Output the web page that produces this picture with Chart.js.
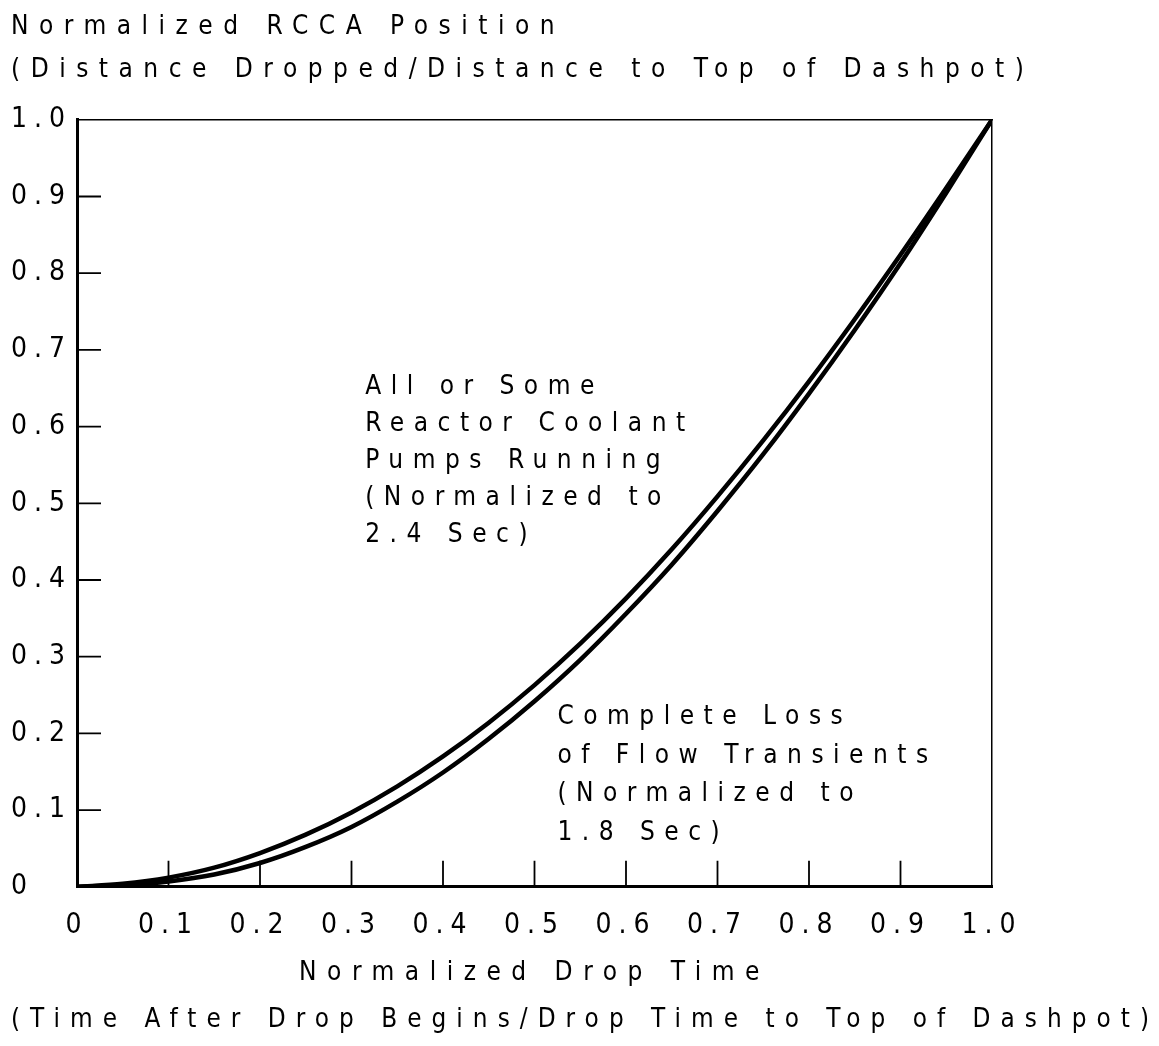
<!DOCTYPE html>
<html><head><meta charset="utf-8">
<script src="https://cdn.jsdelivr.net/npm/chart.js@4"></script>
<style>html,body{margin:0;padding:0;background:#fff}#wrap{width:1159px;height:1046px}</style>
</head><body><div id="wrap"><canvas id="c" width="1159" height="1046"></canvas></div>
<script>
const timeValues = [0,0.05,0.1,0.15,0.2,0.25,0.3,0.35,0.4,0.45,0.5,0.55,0.6,0.65,0.7,0.75,0.8,0.85,0.9,0.95,1.0];
const allPumpsPosition = [0,0.004,0.012,0.025,0.044,0.068,0.097,0.131,0.170,0.214,0.263,0.317,0.376,0.440,0.509,0.582,0.659,0.740,0.824,0.911,1.0];
const lossOfFlowPosition = [0,0.002,0.007,0.016,0.031,0.052,0.078,0.111,0.149,0.193,0.242,0.296,0.356,0.420,0.490,0.564,0.643,0.726,0.813,0.905,1.0];
const xTickLabels = ["0","0.1","0.2","0.3","0.4","0.5","0.6","0.7","0.8","0.9","1.0"];
const yTickLabels = ["0","0.1","0.2","0.3","0.4","0.5","0.6","0.7","0.8","0.9","1.0"];
const titleLines = ["Normalized RCCA Position","(Distance Dropped/Distance to Top of Dashpot)"];
const xTitle = "Normalized Drop Time";
const xSubtitle = "(Time After Drop Begins/Drop Time to Top of Dashpot)";
const noteAllPumps = ["All or Some","Reactor Coolant","Pumps Running","(Normalized to","2.4 Sec)"];
const noteLossOfFlow = ["Complete Loss","of Flow Transients","(Normalized to","1.8 Sec)"];

const FAM = "'Liberation Sans Narrow','DejaVu Sans Condensed','Liberation Sans',sans-serif";
const LS_TITLE = '10.5px';
const LS_NOTE = '9.5px';
const LS_TICK = '7px';

const spacingPlugin = {
  id: 'spacing',
  beforeLayout(chart){ chart.ctx.letterSpacing = LS_TICK; },
  beforeDraw(chart){ chart.ctx.letterSpacing = LS_TITLE; }
};

const ticksPlugin = {
  id: 'inwardTicks',
  afterDatasetsDraw(chart){
    const {ctx, chartArea: a, scales: {x, y}} = chart;
    ctx.save();
    ctx.strokeStyle = '#000';
    ctx.lineWidth = 1.8;
    ctx.beginPath();
    for (let i = 1; i < xTickLabels.length - 1; i++) {
      const px = x.getPixelForValue(i / 10);
      ctx.moveTo(px, a.bottom); ctx.lineTo(px, a.bottom - 26);
    }
    for (let i = 1; i < yTickLabels.length - 1; i++) {
      const py = y.getPixelForValue(i / 10);
      ctx.moveTo(a.left, py); ctx.lineTo(a.left + 24, py);
    }
    ctx.stroke();
    ctx.restore();
  }
};

const notesPlugin = {
  id: 'notes',
  afterDatasetsDraw(chart){
    const {ctx, scales: {x, y}} = chart;
    const blocks = [
      {lines: noteAllPumps, t: 0.315, v: 0.642, gap: 37},
      {lines: noteLossOfFlow, t: 0.525, v: 0.212, gap: 38.5}
    ];
    ctx.save();
    ctx.letterSpacing = LS_NOTE;
    ctx.fillStyle = '#000';
    ctx.font = '26px ' + FAM;
    ctx.textAlign = 'left';
    ctx.textBaseline = 'alphabetic';
    blocks.forEach(b => {
      const px = x.getPixelForValue(b.t);
      const py = y.getPixelForValue(b.v);
      b.lines.forEach((s, i) => ctx.fillText(s, px, py + i * b.gap));
    });
    ctx.restore();
    // tick labels (z = 1 layers) are drawn after this point
    ctx.letterSpacing = LS_TICK;
  }
};

const ds = (vals) => timeValues.map((t, i) => ({x: t, y: vals[i]}));

new Chart(document.getElementById('c'), {
  type: 'line',
  data: {
    datasets: [
      {label: 'All or Some Reactor Coolant Pumps Running', data: ds(allPumpsPosition), borderColor: '#000', borderWidth: 4.5, pointRadius: 0, cubicInterpolationMode: 'monotone', fill: false},
      {label: 'Complete Loss of Flow Transients', data: ds(lossOfFlowPosition), borderColor: '#000', borderWidth: 4.5, pointRadius: 0, cubicInterpolationMode: 'monotone', fill: false}
    ]
  },
  options: {
    responsive: false,
    animation: false,
    devicePixelRatio: 1,
    layout: {padding: {left: 11, right: 0, top: 0, bottom: 0}},
    plugins: {
      legend: {display: false},
      tooltip: {enabled: false},
      title: {display: true, text: titleLines, align: 'start', color: '#000', font: {size: 26, family: FAM, weight: 'normal', lineHeight: 1.65}, padding: {top: 6, bottom: 28}},
      subtitle: {display: true, position: 'bottom', text: xSubtitle, color: '#000', font: {size: 27, family: FAM, weight: 'normal', lineHeight: 1.6}, padding: {top: 0, bottom: 4}}
    },
    scales: {
      x: {
        type: 'linear', position: 'bottom', min: 0, max: 1,
        grid: {display: false},
        border: {display: true, width: 3, color: '#000'},
        ticks: {z: 1, stepSize: 0.1, autoSkip: false, maxRotation: 0, color: '#000', padding: 14, font: {size: 28, family: FAM},
          callback: v => xTickLabels[Math.round(v * 10)]},
        title: {display: true, text: xTitle, color: '#000', font: {size: 26, family: FAM}, padding: {top: 0, bottom: 10}},
        afterFit(s){ s.height = 112; }
      },
      y: {
        type: 'linear', position: 'left', min: 0, max: 1,
        grid: {display: false},
        border: {display: true, width: 3, color: '#000'},
        ticks: {z: 1, stepSize: 0.1, autoSkip: false, crossAlign: 'far', color: '#000', padding: 6, font: {size: 28, family: FAM},
          callback: v => yTickLabels[Math.round(v * 10)]},
        afterFit(s){ s.width = 66; }
      },
      xTop: {
        type: 'linear', position: 'top', min: 0, max: 1,
        grid: {display: false}, ticks: {display: false},
        border: {display: true, width: 1.5, color: '#000'},
        afterFit(s){ s.height = 0; }
      },
      yRight: {
        type: 'linear', position: 'right', min: 0, max: 1,
        grid: {display: false}, ticks: {display: false},
        border: {display: true, width: 1.5, color: '#000'},
        afterFit(s){ s.width = 167; }
      }
    }
  },
  plugins: [spacingPlugin, ticksPlugin, notesPlugin]
});
</script>
</body></html>
